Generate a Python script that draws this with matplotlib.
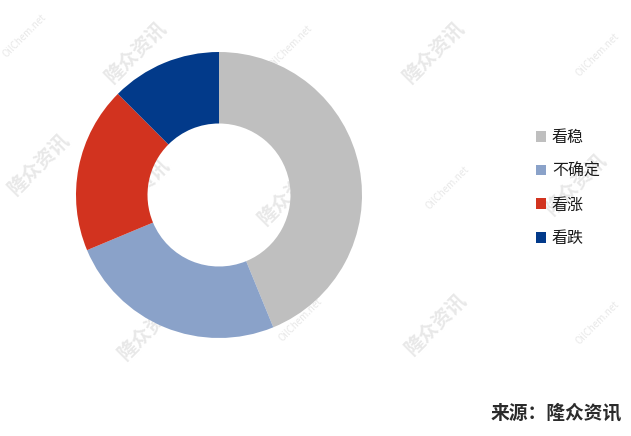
import matplotlib.pyplot as plt
from matplotlib.patches import Patch

plt.rcParams['font.family'] = ['Noto Sans CJK SC', 'DejaVu Sans']

labels = ['看稳', '不确定', '看涨', '看跌']
shares = [43.8, 24.9, 18.8, 12.5]
colors = ['#BFBFBF', '#8AA2C9', '#D2331F', '#023A8A']

# watermark grid (pixel centres)
wm_text = ['隆众资讯', '隆众资讯', '隆众资讯', '隆众资讯', '隆众资讯', '隆众资讯', '隆众资讯', '隆众资讯',
           'OilChem.net', 'OilChem.net', 'OilChem.net', 'OilChem.net', 'OilChem.net', 'OilChem.net']
wm_x = [137, 40, 290, 435, 577, 150, 437, 140,
        24, 290, 597, 447, 597, 300]
wm_y = [53, 165, 195, 53, 185, 330, 325, 190,
        36, 47, 55, 188, 323, 320]

W, H = 631, 436
fig = plt.figure(figsize=(W / 100, H / 100), dpi=100)

for t, x, y in zip(wm_text, wm_x, wm_y):
    big = not t.startswith('Oil')
    fig.text(x / W, 1 - y / H, t, rotation=45, ha='center', va='center',
             fontsize=14 if big else 7, fontweight='bold' if big else 'normal',
             color='#E8E8E8', zorder=0)

cx, cy, r = 219, 195, 143
ax = fig.add_axes([(cx - r) / W, (H - cy - r) / H, 2 * r / W, 2 * r / H])
ax.set_zorder(2)
ax.pie(shares, colors=colors, startangle=90, counterclock=False,
       wedgeprops=dict(width=0.5, edgecolor='none'))
ax.set_xlim(-1, 1)
ax.set_ylim(-1, 1)
ax.set_aspect('equal')
ax.axis('off')
ax.patch.set_alpha(0)

handles = [Patch(facecolor=c, edgecolor='none') for c in colors]
leg = fig.legend(handles, labels, loc='center left', bbox_to_anchor=(536 / W, 1 - 188 / H),
                 frameon=False, fontsize=11.5, handlelength=0.65, handleheight=0.65,
                 handletextpad=0.35, labelspacing=1.05, borderpad=0, borderaxespad=0)
for txt in leg.get_texts():
    txt.set_color('#1A1A1A')

fig.text(622 / W, 1 - 413 / H, '来源：隆众资讯', ha='right', va='center',
         fontsize=13.5, fontweight='bold', color='#2B2B2B')

fig.savefig('out.png', dpi=100)
